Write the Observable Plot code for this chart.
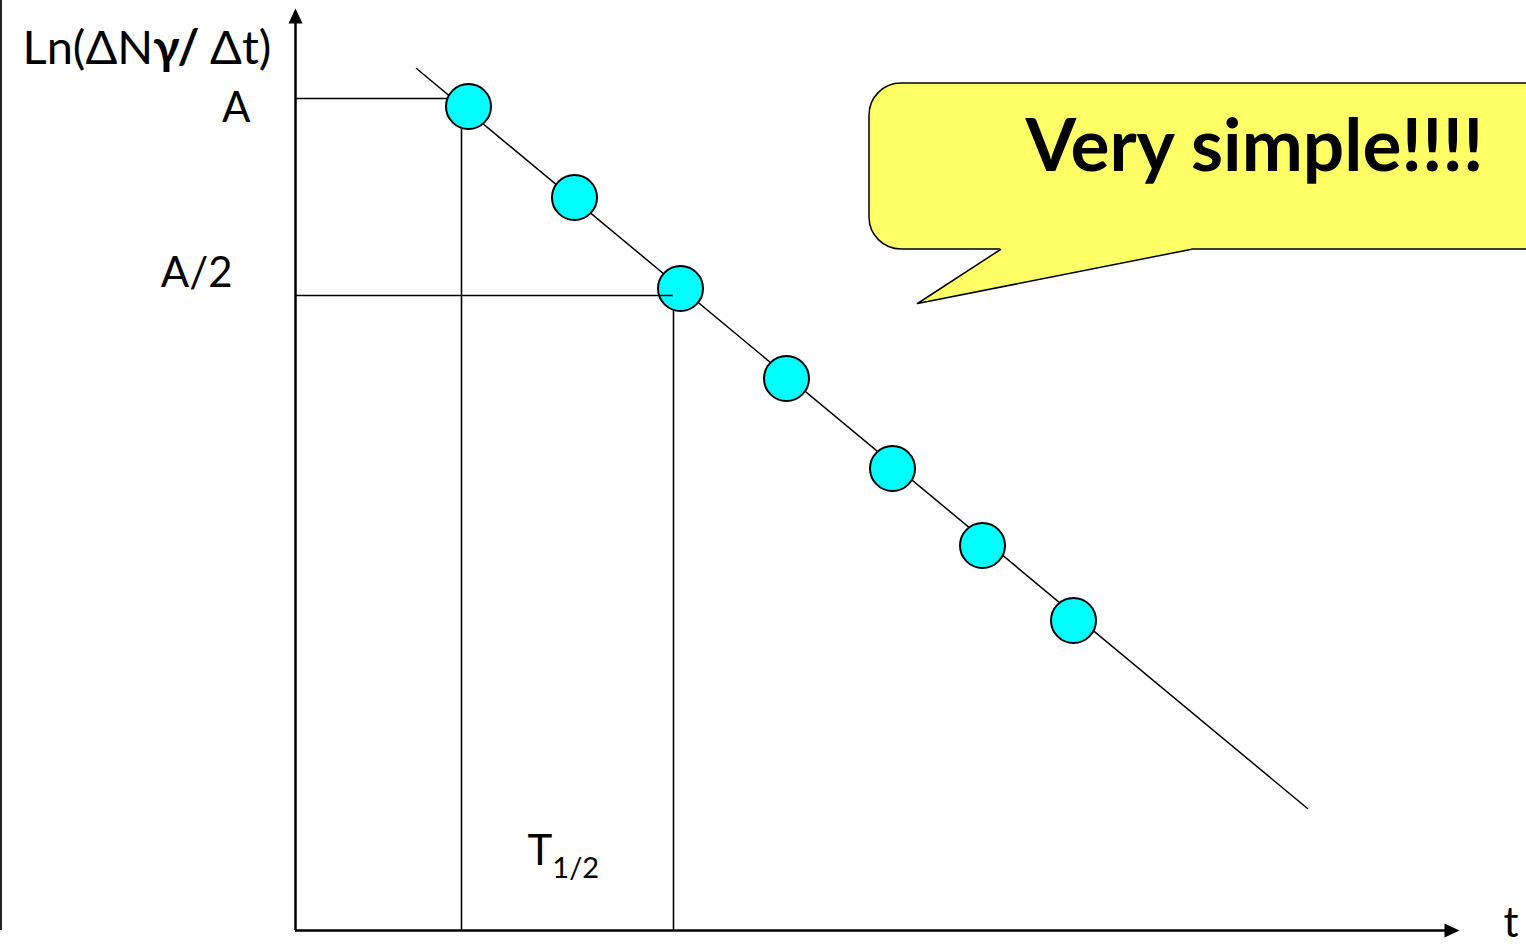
<!DOCTYPE html>
<html><head><meta charset="utf-8">
<script src="https://cdn.jsdelivr.net/npm/d3@7"></script>
<script src="https://cdn.jsdelivr.net/npm/@observablehq/plot@0.6"></script>
<style>html,body{margin:0;padding:0;background:#fff;overflow:hidden;} #chart svg{display:block;overflow:hidden}</style>
</head><body><div id="chart"></div>
<script>
// Measured points (time, ln of count rate)
const tPoints = [1.73, 2.79, 3.85, 4.91, 5.97, 6.87, 7.78];
const lnRate = [8.24, 7.33, 6.42, 5.52, 4.62, 3.85, 3.10];
// Fitted straight line end points
const fitT = [1.21, 10.12];
const fitLn = [8.62, 1.22];
// Reference levels A and A/2 and their times
const levelNames = ["A", "A/2"];
const levelValues = [8.32, 6.35];
const levelTimes = [1.66, 3.78];
// Axis extents
const axisTEnd = [11.64];
const axisLnEnd = [9.22];
// Speech bubble (in chart units)
const bubbleT = [5.74, 12.8];
const bubbleLn = [6.81, 8.47];
const tailT = [7.05, 6.22, 8.95];
const tailLn = [6.81, 6.27, 6.81];
// Labels
const labelText = ["Ln(ΔNγ/ Δt)", "A", "A/2", "T1/2", "t"];
const labelT = [-2.73, -0.45, -0.63, 2.32, 12.08];
const labelLn = [8.82, 8.22, 6.57, 0.79, 0.07];
const labelAnchor = ["start", "end", "end", "start", "start"];
const labelSize = [47, 42, 42, 42, 42];
const bubbleText = "Very simple!!!!";
const bubbleTextPos = [7.30, 7.83];

const points = tPoints.map((t, i) => ({t, v: lnRate[i]}));
const fit = fitT.map((t, i) => ({t, v: fitLn[i]}));
const labels = labelText.map((s, i) => ({s, t: labelT[i], v: labelLn[i], a: labelAnchor[i], size: labelSize[i]}));
const tail = tailT.map((t, i) => ({t, v: tailLn[i]}));
const tailFill = [{t: tailT[0] - 0.02, v: tailLn[0] + 0.03}, ...tail, {t: tailT[2] + 0.02, v: tailLn[2] + 0.03}];

const arrowHead = {draw(ctx) { ctx.moveTo(0, 0); ctx.lineTo(-7, 15); ctx.lineTo(7, 15); ctx.closePath(); }};
const font = "Lato, 'Open Sans', sans-serif";

const chart = Plot.plot({
  width: 1526, height: 948,
  marginLeft: 0, marginRight: 0, marginTop: 0, marginBottom: 18,
  x: {domain: [-2.95, 12.31], axis: null},
  y: {domain: [0, 9.30], axis: null},
  style: {fontFamily: font, background: "#fff"},
  marks: [
    // left frame edge
    Plot.ruleX([-2.95], {stroke: "#222", strokeWidth: 3}),
    // speech bubble
    Plot.rect([0], {x1: bubbleT[0], x2: bubbleT[1], y1: bubbleLn[0], y2: bubbleLn[1], rx: 32, fill: "#FFFF66", stroke: "black", strokeWidth: 1.5}),
    Plot.line(tailFill, {x: "t", y: "v", fill: "#FFFF66", stroke: null, curve: "linear-closed"}),
    Plot.line(tail, {x: "t", y: "v", stroke: "black", strokeWidth: 1.5}),
    Plot.text([bubbleText], {x: bubbleTextPos[0], y: bubbleTextPos[1], text: d => d, textAnchor: "start", fontSize: 73, fontWeight: 700, fill: "black"}),
    // guide lines
    Plot.ruleY([levelValues[0]], {x1: 0, x2: levelTimes[0], stroke: "black", strokeWidth: 1.6}),
    Plot.ruleX(levelTimes, {y1: 0, y2: (d, i) => levelValues[i], stroke: "black", strokeWidth: 1.6}),
    // fitted line
    Plot.line(fit, {x: "t", y: "v", stroke: "black", strokeWidth: 1.5}),
    // data points
    Plot.dot(points, {x: "t", y: "v", r: 22.5, fill: "#00FFFF", stroke: "black", strokeWidth: 2}),
    Plot.ruleY([levelValues[1]], {x1: 0, x2: levelTimes[1], stroke: "black", strokeWidth: 1.6}),
    // axes
    Plot.ruleX([0], {y1: 0, y2: axisLnEnd[0] - 0.1, stroke: "black", strokeWidth: 2.5}),
    Plot.ruleY([0], {x1: 0, x2: axisTEnd[0] - 0.1, stroke: "black", strokeWidth: 2.5}),
    Plot.dot(axisLnEnd, {x: 0, y: d => d, symbol: arrowHead, fill: "black", stroke: null, r: 5}),
    Plot.dot(axisTEnd, {x: d => d, y: 0, symbol: arrowHead, rotate: 90, fill: "black", stroke: null, r: 5}),
    // labels
    ...labels.map(d => Plot.text([d], {x: "t", y: "v", text: "s", textAnchor: d.a, fontSize: d.size, fill: "black"}))
  ]
});
document.getElementById("chart").appendChild(chart);

// rich text: bold gamma and slash, subscript for T1/2
d3.select(chart).selectAll("text").each(function() {
  const el = d3.select(this);
  const s = el.text();
  if (s === "Ln(ΔNγ/ Δt)") {
    el.text(null);
    el.append("tspan").text("Ln(ΔN");
    el.append("tspan").attr("font-weight", 700).text("γ/");
    el.append("tspan").text(" Δt)");
  } else if (s === "T1/2") {
    el.text(null);
    el.append("tspan").text("T");
    el.append("tspan").attr("font-size", 29).attr("dy", 13).text("1/2");
  }
});
</script>
</body></html>
